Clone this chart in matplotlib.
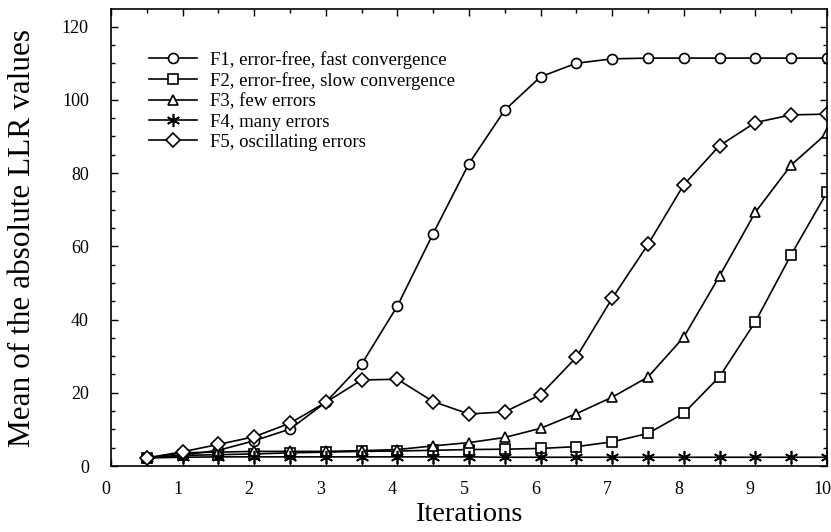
import matplotlib
matplotlib.use("Agg")
import matplotlib.pyplot as plt
from matplotlib.ticker import MultipleLocator
import matplotlib.transforms as mtransforms

iterations = [0.5, 1.0, 1.5, 2.0, 2.5, 3.0, 3.5, 4.0, 4.5, 5.0,
              5.5, 6.0, 6.5, 7.0, 7.5, 8.0, 8.5, 9.0, 9.5, 10.0]

f1 = [2.2, 3.0, 4.3, 6.9, 10.1, 17.4, 27.8, 43.7, 63.5, 82.6,
      97.2, 106.3, 110.0, 111.2, 111.4, 111.4, 111.4, 111.4, 111.4, 111.4]
f2 = [2.2, 2.9, 3.1, 3.3, 3.6, 3.8, 4.0, 4.1, 4.3, 4.5,
      4.6, 4.8, 5.3, 6.6, 8.9, 14.4, 24.4, 39.4, 57.7, 74.7]
f3 = [2.2, 3.6, 3.8, 4.0, 4.0, 4.0, 4.2, 4.5, 5.5, 6.4,
      7.8, 10.3, 14.3, 18.8, 24.3, 35.2, 51.9, 69.3, 82.2, 90.9]
f4 = [2.2, 2.4, 2.5, 2.5, 2.5, 2.5, 2.5, 2.5, 2.5, 2.5,
      2.4, 2.4, 2.4, 2.4, 2.4, 2.4, 2.4, 2.4, 2.4, 2.4]
f5 = [2.2, 3.9, 5.9, 8.0, 11.7, 17.4, 23.5, 23.7, 17.6, 14.2,
      14.8, 19.5, 29.7, 45.8, 60.5, 76.8, 87.5, 93.8, 95.9, 96.1]

labels = ["F1, error-free, fast convergence",
          "F2, error-free, slow convergence",
          "F3, few errors",
          "F4, many errors",
          "F5, oscillating errors"]

plt.rcParams['font.family'] = ['Liberation Serif', 'DejaVu Serif']

fig = plt.figure(figsize=(8.31, 5.32), dpi=100)
ax = fig.add_axes([0.1336, 0.124, 0.8615, 0.859])

series = [f1, f2, f3, f4, f5]
markers = ['o', 's', '^', (6, 2, 0), 'D']
msizes = [7.2, 7.2, 7.8, 9.5, 6.8]
for ys, m, ms, lab in zip(series, markers, msizes, labels):
    ax.plot(iterations, ys, color='black', linewidth=1.2, marker=m,
            markersize=ms, markerfacecolor='white', markeredgecolor='black',
            markeredgewidth=1.2, label=lab)

ax.set_xlim(0, 10)
ax.set_ylim(0, 124.8)
ax.xaxis.set_major_locator(MultipleLocator(1))
ax.xaxis.set_minor_locator(MultipleLocator(0.5))
ax.yaxis.set_major_locator(MultipleLocator(20))
ax.yaxis.set_minor_locator(MultipleLocator(5))
ax.tick_params(which='both', direction='in', top=True, right=True,
               labelsize=13, width=1.0)
ax.tick_params(which='major', length=5)
ax.tick_params(which='minor', length=3)
ax.tick_params(axis='x', pad=11)
ax.tick_params(axis='y', pad=16)
for sp in ax.spines.values():
    sp.set_linewidth(1.2)

offset = mtransforms.ScaledTranslation(-5 / 100, 0, fig.dpi_scale_trans)
for lbl in ax.get_xticklabels():
    lbl.set_transform(lbl.get_transform() + offset)

ax.set_xlabel("Iterations", fontsize=20.5, labelpad=3)
ax.set_ylabel("Mean of the absolute LLR values", fontsize=22.5, labelpad=18)

leg = fig.legend(loc='upper left', bbox_to_anchor=(0.179, 0.904),
                 frameon=False, fontsize=13.5, handlelength=2.6,
                 handletextpad=0.65, labelspacing=0.17, borderpad=0,
                 borderaxespad=0)

fig.savefig("out.png", dpi=100)
